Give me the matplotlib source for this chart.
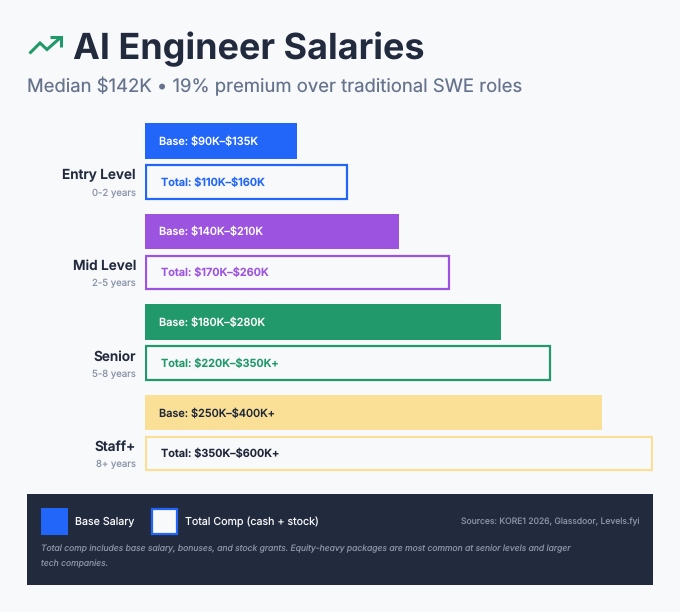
import matplotlib
matplotlib.use("Agg")
import matplotlib.pyplot as plt
from matplotlib.patches import Rectangle
from matplotlib.lines import Line2D

plt.rcParams["font.family"] = ["Inter", "DejaVu Sans"]
plt.rcParams["text.hinting"] = "no_hinting"
plt.rcParams["text.parse_math"] = False

levels = ["Entry Level", "Mid Level", "Senior", "Staff+"]
years = ["0-2 years", "2-5 years", "5-8 years", "8+ years"]
base_labels = ["Base: $90K–$135K", "Base: $140K–$210K", "Base: $180K–$280K", "Base: $250K–$400K+"]
total_labels = ["Total: $110K–$160K", "Total: $170K–$260K", "Total: $220K–$350K+", "Total: $350K–$600K+"]
base_width = [30, 50, 70, 90]
total_width = [40, 60, 80, 100]
colors = ["#2166f8", "#9c54e0", "#22996a", "#f9e096"]
base_text = ["#ffffff", "#ffffff", "#ffffff", "#1f2638"]
total_text = ["#2166f8", "#9c54e0", "#22996a", "#1f2638"]

W, H = 680, 612
BG = "#f8f9fb"
DARK = "#222a3e"

fig = plt.figure(figsize=(W / 100, H / 100), dpi=100, facecolor=BG)


def fx(x):
    return x / W


def fy(y):
    return 1 - y / H


# header
fig.text(fx(73), fy(49), "AI Engineer Salaries", fontsize=25.9, fontweight="bold", color=DARK, va="center")
fig.text(fx(27), fy(86.5), "Median $142K • 19% premium over traditional SWE roles", fontsize=13.3, color="#66738c", va="center")
fig.add_artist(Line2D([fx(29.5), fx(40), fx(47), fx(60)], [fy(53.5), fy(43), fy(49.5), fy(38)], color="#22996a", lw=2.2,
                      solid_joinstyle="miter", solid_capstyle="butt"))
fig.add_artist(Line2D([fx(50), fx(61), fx(61)], [fy(37), fy(37), fy(47)], color="#22996a", lw=2.2,
                      solid_joinstyle="miter", solid_capstyle="butt"))

# bars, x is percent of the longest bar, y is px below the top of the first bar
ax = fig.add_axes([fx(145), fy(472), 508 / W, 349 / H])
ax.set_xlim(0, 100)
ax.set_ylim(349, 0)
ax.axis("off")

step = 90.6
bar_h = 35.5
gap = 41
for i in range(len(levels)):
    y0 = i * step
    ax.barh(y0 + bar_h / 2, base_width[i], height=bar_h, color=colors[i], linewidth=0)
    ax.barh(y0 + gap + (bar_h - 2) / 2 + 1, total_width[i] - 0.4, left=0.2, height=bar_h - 2, facecolor=BG,
            edgecolor=colors[i], linewidth=1.6)
    ax.annotate(base_labels[i], (0, y0 + bar_h / 2 + 0.8), xytext=(14, 0), textcoords="offset pixels", fontsize=7.9,
                fontweight="medium", color=base_text[i], va="center")
    ax.annotate(total_labels[i], (0, y0 + gap + bar_h / 2 + 0.8), xytext=(16, 0), textcoords="offset pixels", fontsize=7.9,
                fontweight="semibold", color=total_text[i], va="center")
    ax.annotate(levels[i], (0, y0 + 52.5), xytext=(-9, 0), textcoords="offset pixels", fontsize=9.8, fontweight="semibold",
                color=DARK, ha="right", va="center")
    ax.annotate(years[i], (0, y0 + 70), xytext=(-9, 0), textcoords="offset pixels", fontsize=6.9, color="#8a93a6",
                ha="right", va="center")

# footer panel
fig.add_artist(Rectangle((fx(27), fy(585)), 626 / W, 91 / H, transform=fig.transFigure, facecolor=DARK, linewidth=0))
fig.add_artist(Rectangle((fx(41), fy(535)), 27 / W, 27 / H, transform=fig.transFigure, facecolor="#2166f8", linewidth=0))
fig.add_artist(Rectangle((fx(152), fy(534)), 25 / W, 25 / H, transform=fig.transFigure, facecolor=BG,
                         edgecolor="#2166f8", linewidth=1.6))
fig.text(fx(75), fy(521.5), "Base Salary", fontsize=7.7, color="#f8f9fb", va="center")
fig.text(fx(185), fy(521.5), "Total Comp (cash + stock)", fontsize=7.7, color="#f8f9fb", va="center")
fig.text(fx(639), fy(521.5), "Sources: KORE1 2026, Glassdoor, Levels.fyi", fontsize=6.2, color="#8a93a6", ha="right", va="center")
fig.text(fx(41), fy(549), "Total comp includes base salary, bonuses, and stock grants. Equity-heavy packages are most common at senior levels and larger",
         fontsize=6.17, style="italic", color="#8a93a6", va="center")
fig.text(fx(41), fy(563.5), "tech companies.", fontsize=6.17, style="italic", color="#8a93a6", va="center")

fig.savefig("out.png", dpi=100, facecolor=BG)
